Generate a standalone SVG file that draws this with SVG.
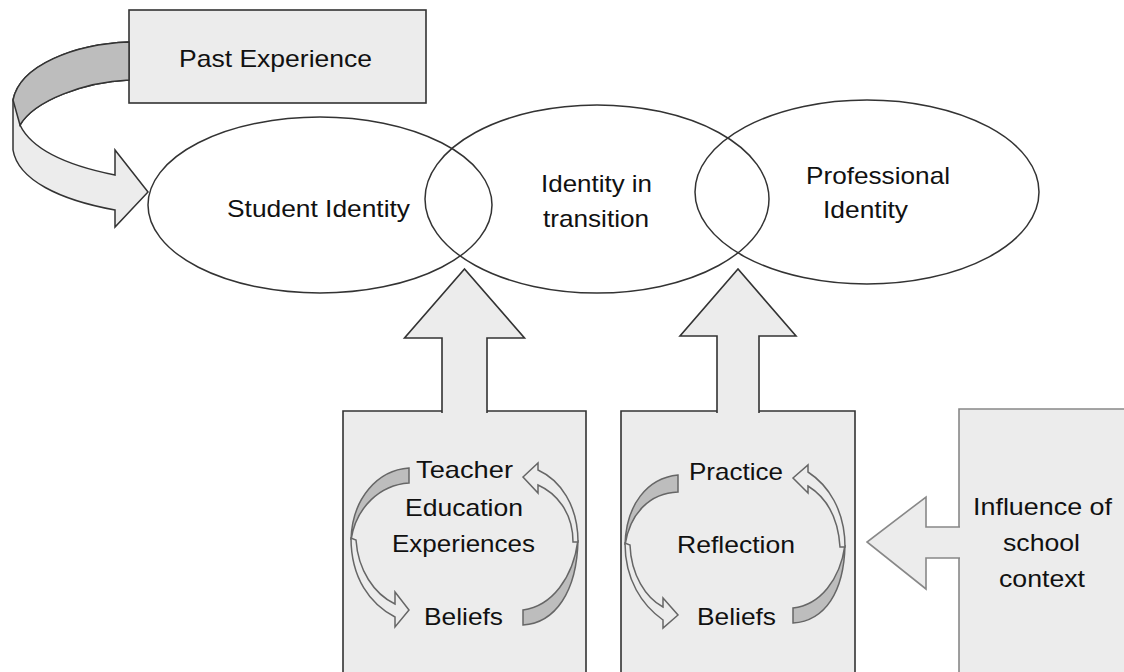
<svg xmlns="http://www.w3.org/2000/svg" width="1124" height="672" viewBox="0 0 1124 672">
<style>
.box{fill:#ececec;stroke:#333;stroke-width:1.6}
.fillonly{fill:#ececec;stroke:none}
.edge3{fill:none;stroke:#888;stroke-width:1.6}
.ell{fill:none;stroke:#333;stroke-width:1.5}
.t{font-family:"Liberation Sans",Arial,sans-serif;font-size:24px;fill:#111;text-anchor:middle}
.big{fill:#ececec;stroke:#333;stroke-width:1.5;stroke-linejoin:miter}
.bigd{fill:#bdbdbd;stroke:#333;stroke-width:1.5}
.cd{fill:#bdbdbd;stroke:#666;stroke-width:1.5}
.cl{fill:#ececec;stroke:#666;stroke-width:1.5}
.up{fill:#ececec;stroke:#333;stroke-width:1.6}
.lf{fill:#ececec;stroke:#888;stroke-width:1.6}
</style>
<rect width="1124" height="672" fill="#fff"/>
<g id="past-experience">
<rect class="box" x="129" y="10" width="297" height="93"/>
<text class="t" x="275.5" y="67" textLength="193" lengthAdjust="spacingAndGlyphs">Past Experience</text>
</g>
<g id="student-identity">
<ellipse class="ell" cx="320" cy="205" rx="172" ry="88"/>
<text class="t" x="318.5" y="217" textLength="183" lengthAdjust="spacingAndGlyphs">Student Identity</text>
</g>
<g id="identity-in-transition">
<ellipse class="ell" cx="597" cy="199" rx="172" ry="94"/>
<text class="t" x="596.5" y="192" textLength="111" lengthAdjust="spacingAndGlyphs">Identity in</text>
<text class="t" x="596" y="227" textLength="106" lengthAdjust="spacingAndGlyphs">transition</text>
</g>
<g id="professional-identity">
<ellipse class="ell" cx="867" cy="192" rx="172" ry="92"/>
<text class="t" x="878" y="184" textLength="144" lengthAdjust="spacingAndGlyphs">Professional</text>
<text class="t" x="865.5" y="218" textLength="85" lengthAdjust="spacingAndGlyphs">Identity</text>
</g>
<g id="teacher-education-box">
<path class="box" d="M343,680 L343,411 L586,411 L586,680 Z"/>
<text class="t" x="464.5" y="478" textLength="97" lengthAdjust="spacingAndGlyphs">Teacher</text>
<text class="t" x="464" y="516" textLength="118" lengthAdjust="spacingAndGlyphs">Education</text>
<text class="t" x="463.5" y="552" textLength="143" lengthAdjust="spacingAndGlyphs">Experiences</text>
<text class="t" x="463.5" y="625" textLength="79" lengthAdjust="spacingAndGlyphs">Beliefs</text>
</g>
<g id="practice-box">
<path class="box" d="M621,680 L621,411 L855,411 L855,680 Z"/>
<text class="t" x="736" y="480" textLength="94" lengthAdjust="spacingAndGlyphs">Practice</text>
<text class="t" x="736" y="553" textLength="118" lengthAdjust="spacingAndGlyphs">Reflection</text>
<text class="t" x="736.5" y="625" textLength="79" lengthAdjust="spacingAndGlyphs">Beliefs</text>
</g>
<g id="school-context-box">
<rect class="fillonly" x="959" y="409" width="170" height="270"/>
<path class="edge3" d="M959,680 L959,409 L1130,409"/>
<text class="t" x="1042.5" y="515" textLength="139" lengthAdjust="spacingAndGlyphs">Influence of</text>
<text class="t" x="1041.5" y="551" textLength="77" lengthAdjust="spacingAndGlyphs">school</text>
<text class="t" x="1042" y="587" textLength="86" lengthAdjust="spacingAndGlyphs">context</text>
</g>
<g id="connectors">
<path class="big" d="M129,42 C75,44 20,65 13,100 L13,150 C18,180 60,200 115,210 L115,227 L148,192 L115,150 L115,175 C70,166 32,150 20,125 C35,100 85,82 129,80"/>
<path class="bigd" d="M129,42 C75,44 20,65 13,100 L20,125 C35,100 85,82 129,80 Z"/>
<path class="up" d="M442,413 L442,338 L404.5,338 L464.5,269 L524.5,338 L487,338 L487,413"/>
<path class="up" d="M717,413 L717,336 L680,336 L738,269 L796,336 L759,336 L759,413"/>
<path class="lf" d="M960,527 L926,527 L926,497 L867,542 L926,589 L926,558 L960,558"/>
<path class="cd" d="M409,468 C378,470 352,498 351,540 C356,507 380,485 409,483 Z"/>
<path class="cl" d="M351,538 C351,578 370,604 395,617 L395,627 L409,610 L395,592 L395,604 C374,594 358,570 356,540 Z"/>
<path class="cd" d="M523,625 C555,623 577,592 578,540 C573,578 552,606 523,610 Z"/>
<path class="cl" d="M578,542 C578,505 560,480 538,470 L538,463 L523,477 L538,493 L538,485 C556,493 573,512 573,542 Z"/>
<path class="cd" d="M678,475 C647,478 626,505 625,545 C630,513 650,493 678,492 Z"/>
<path class="cl" d="M625,543 C625,580 642,605 663,620 L663,628 L678,615 L663,598 L663,607 C646,598 631,575 630,545 Z"/>
<path class="cd" d="M793,623 C825,621 844,592 845,545 C840,580 820,605 793,608 Z"/>
<path class="cl" d="M845,547 C845,510 828,485 808,472 L808,465 L793,478 L808,493 L808,486 C824,496 838,515 840,547 Z"/>
</g>
</svg>
